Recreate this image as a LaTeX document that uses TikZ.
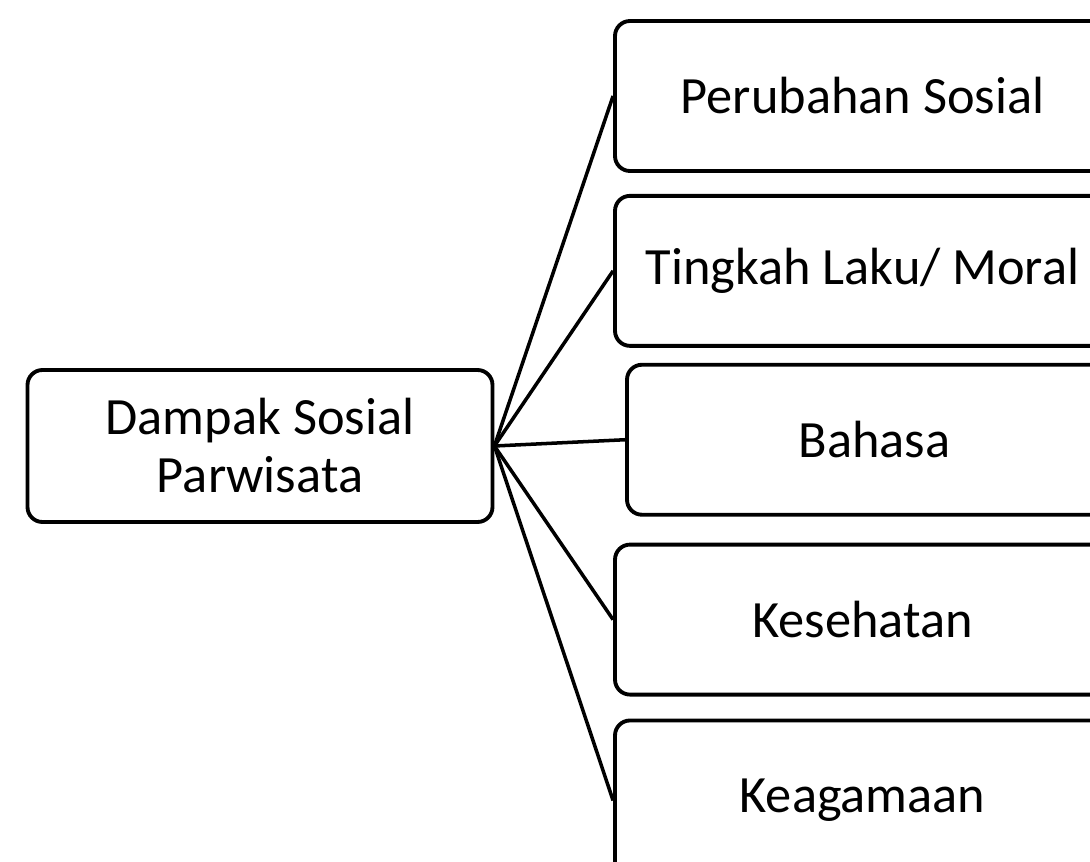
\documentclass[tikz,border=0pt]{standalone}
\usepackage{fontspec}
\setmainfont{Carlito}
\usetikzlibrary{
    positioning
}

\begin{document}
\begin{tikzpicture}[
        every node/.style={font=\fontsize{29.8pt}{33pt}\selectfont},
        root/.style={
            rectangle,
            rounded corners=0.3cm,
            draw=black,
            line width=2.2pt,
            minimum width=9.3cm,
            minimum height=3.04cm,
            align=center,
            inner sep=0pt
        },
        aspect/.style={
            rectangle,
            rounded corners=0.3cm,
            draw=black,
            line width=2.2pt,
            minimum width=9.9cm,
            minimum height=3.0cm,
            align=center,
            inner sep=0pt
        },
        link/.style={line width=2pt,draw=black}
    ]
        \path[use as bounding box, clip] (0,0) rectangle (21.8,17.22);

        % Central box
        \node[root] (dampak) at (5.2,8.3) {Dampak Sosial\\Parwisata};

        % Aspects, cut off at the right edge
        \node[aspect] (perubahan) at (17.25,15.3) {Perubahan Sosial};
        \node[aspect, below=0.42cm of perubahan] (tingkah)
            {Tingkah Laku/ Moral};
        \node[aspect, below=0.3cm of tingkah, xshift=0.24cm] (bahasa)
            {Bahasa};
        \node[aspect, below=0.52cm of bahasa, xshift=-0.24cm] (kesehatan)
            {Kesehatan};
        \node[aspect, below=0.44cm of kesehatan, minimum height=3.2cm] (keagamaan)
            {Keagamaan};

        \draw[link] (dampak.east) -- (perubahan.west);
        \draw[link] (dampak.east) -- (tingkah.west);
        \draw[link] (dampak.east) -- (bahasa.west);
        \draw[link] (dampak.east) -- (kesehatan.west);
        \draw[link] (dampak.east) -- (keagamaan.west);
    \end{tikzpicture}
\end{document}
